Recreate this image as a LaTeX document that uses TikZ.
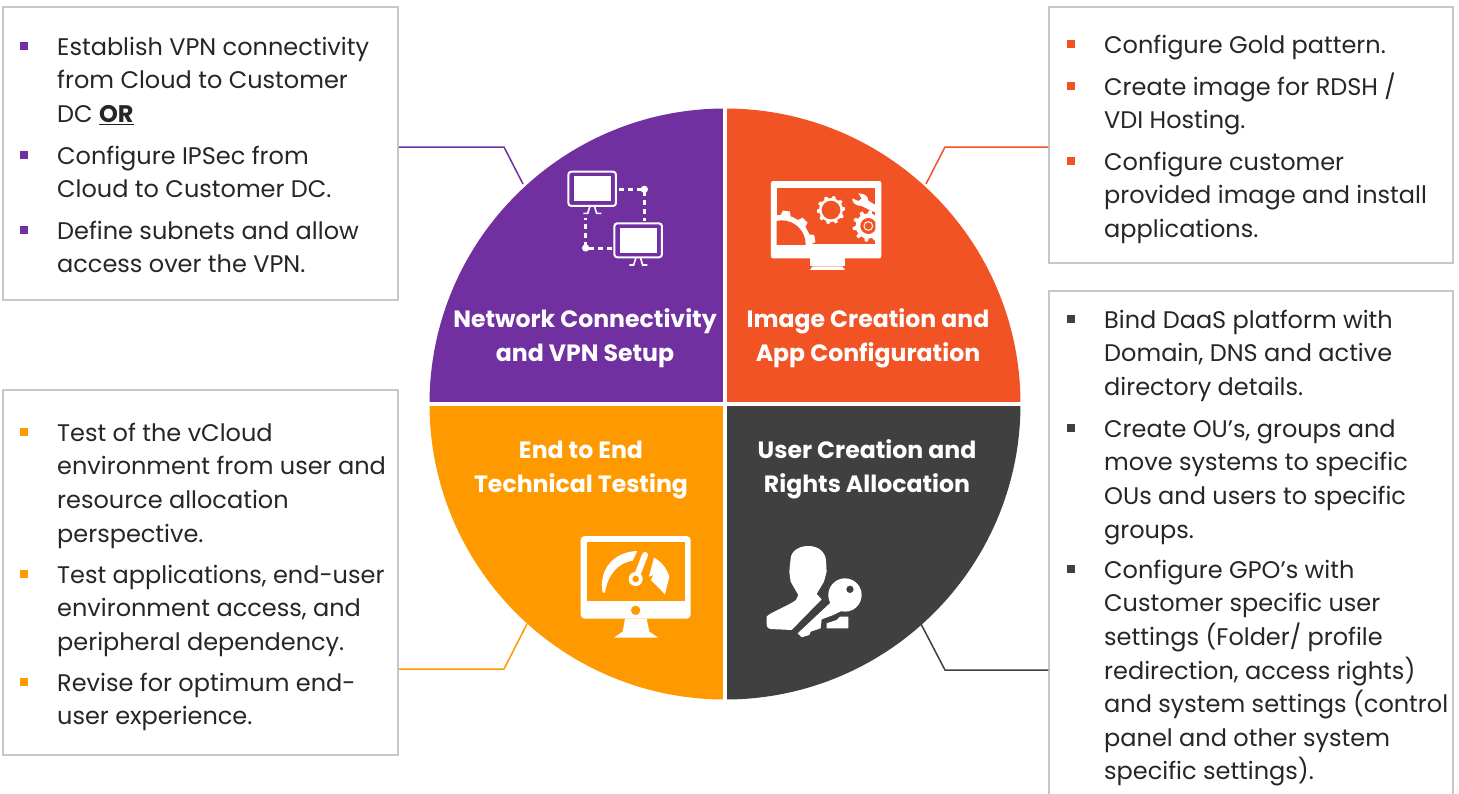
\documentclass[tikz,border=0pt]{standalone}
\usepackage{fontspec}
\setmainfont{Poppins}
\definecolor{vpnpurple}{HTML}{7030A0}
\definecolor{imgorange}{HTML}{F25324}
\definecolor{testamber}{HTML}{FF9900}
\definecolor{userdark}{HTML}{404040}
\definecolor{bodytext}{HTML}{262626}
\newcommand{\lineup}{\rule{0pt}{24pt}}
\tikzset{
	infobox/.style={draw=black!22,line width=1.5pt,fill=white,inner sep=0pt},
	itemtext/.style={anchor=north west,align=left,inner sep=0pt,text=bodytext,font=\fontsize{24}{33.6}\selectfont},
	itembullet/.style={rectangle,inner sep=0pt,minimum size=7.5pt},
	wedgetext/.style={anchor=north,align=center,inner sep=0pt,text=white,font=\fontsize{23.6}{33.6}\selectfont\bfseries},
	leader/.style={line width=1.5pt}
}
\newcommand{\cogwheel}[5]{%
	\fill[white] (#1) circle (#2);
	\foreach \a in {0,36,...,324}
		\fill[white,shift={(#1)},rotate=\a+#5] (#2-1,-0.17*#2) -- (#2+#4,-0.12*#2) -- (#2+#4,0.12*#2) -- (#2-1,0.17*#2) -- cycle;
	\fill[imgorange] (#1) circle (#3);
}
\begin{document}
\begin{tikzpicture}[x=1pt,y=-1pt]
		\clip (0,0) rectangle (1459,793);
		\fill[white] (0,0) rectangle (1459,793);

		% the four quarters
		\coordinate (hub) at (725,404);
		\fill[vpnpurple] (hub) -- (429.5,404) arc (180:270:295.5) -- cycle;
		\fill[imgorange] (hub) -- (725,108.5) arc (270:360:295.5) -- cycle;
		\fill[userdark] (hub) -- (1020.5,404) arc (0:90:295.5) -- cycle;
		\fill[testamber] (hub) -- (725,699.5) arc (90:180:295.5) -- cycle;
		\draw[white,line width=4pt] (725,100) -- (725,710);
		\draw[white,line width=4pt] (420,404) -- (1030,404);

		\node[wedgetext] (titleVPN) at (585,303.5) {\lineup Network Connectivity\\and VPN Setup};
		\node[wedgetext] (titleImg) at (868,303.5) {\lineup Image Creation and\\App Configuration};
		\node[wedgetext] (titleTest) at (581,434.5) {\lineup End to End\\Technical Testing};
		\node[wedgetext] (titleUser) at (867,434.5) {\lineup User Creation and\\Rights Allocation};

		% boxes
		\node[infobox,minimum width=395pt,minimum height=293pt] (boxVPN) at (200.5,153.5) {};
		\node[infobox,minimum width=404pt,minimum height=256pt] (boxImg) at (1251,135) {};
		\node[infobox,minimum width=404pt,minimum height=520pt] (boxUser) at (1251,551) {};
		\node[infobox,minimum width=395pt,minimum height=365pt] (boxTest) at (200.5,572.5) {};

		% leaders
		\coordinate (bendVPN) at (504,147);
		\coordinate (tipVPN) at (523,184);
		\coordinate (bendImg) at (945,147);
		\coordinate (tipImg) at (926,184);
		\coordinate (bendTest) at (504,669);
		\coordinate (tipTest) at (527,624);
		\coordinate (bendUser) at (945,670);
		\coordinate (tipUser) at (921,624);
		\draw[leader,vpnpurple] (boxVPN.east |- bendVPN) -- (bendVPN) -- (tipVPN);
		\draw[leader,imgorange] (boxImg.west |- bendImg) -- (bendImg) -- (tipImg);
		\draw[leader,testamber] (boxTest.east |- bendTest) -- (bendTest) -- (tipTest);
		\draw[leader,userdark] (boxUser.west |- bendUser) -- (bendUser) -- (tipUser);

		% box texts
		\node[itembullet,fill=vpnpurple] (bulletVPNa) at (24,46) {};
		\node[itembullet,fill=vpnpurple] (bulletVPNb) at (24,155) {};
		\node[itembullet,fill=vpnpurple] (bulletVPNc) at (24,230) {};
		\node[itemtext] (itemVPNa) at (57,31) {\lineup Establish VPN connectivity\\from Cloud to Customer\\DC \underline{\textbf{OR}}};
		\node[itemtext] (itemVPNb) at (57,140) {\lineup Configure IPSec from\\Cloud to Customer DC.};
		\node[itemtext] (itemVPNc) at (57,215) {\lineup Define subnets and allow\\access over the VPN.};

		\node[itembullet,fill=imgorange] (bulletImga) at (1071,44) {};
		\node[itembullet,fill=imgorange] (bulletImgb) at (1071,86) {};
		\node[itembullet,fill=imgorange] (bulletImgc) at (1071,161) {};
		\node[itemtext] (itemImga) at (1104,29) {\lineup Configure Gold pattern.};
		\node[itemtext] (itemImgb) at (1104,71) {\lineup Create image for RDSH /\\VDI Hosting.};
		\node[itemtext] (itemImgc) at (1104,146) {\lineup Configure customer\\provided image and install\\applications.};

		\node[itembullet,fill=userdark] (bulletUsera) at (1071,319) {};
		\node[itembullet,fill=userdark] (bulletUserb) at (1071,428) {};
		\node[itembullet,fill=userdark] (bulletUserc) at (1071,569) {};
		\node[itemtext] (itemUsera) at (1104,304) {\lineup Bind DaaS platform with\\Domain, DNS and active\\directory details.};
		\node[itemtext] (itemUserb) at (1104,413) {\lineup Create OU’s, groups and\\move systems to specific\\OUs and users to specific\\groups.};
		\node[itemtext] (itemUserc) at (1104,554) {\lineup Configure GPO’s with\\Customer specific user\\settings (Folder/ profile\\redirection, access rights)\\and system settings (control\\panel and other system\\specific settings).};

		\node[itembullet,fill=testamber] (bulletTesta) at (24,432) {};
		\node[itembullet,fill=testamber] (bulletTestb) at (24,574) {};
		\node[itembullet,fill=testamber] (bulletTestc) at (24,682) {};
		\node[itemtext] (itemTesta) at (57,417) {\lineup Test of the vCloud\\environment from user and\\resource allocation\\perspective.};
		\node[itemtext] (itemTestb) at (57,559) {\lineup Test applications, end-user\\environment access, and\\peripheral dependency.};
		\node[itemtext] (itemTestc) at (57,667) {\lineup Revise for optimum end-\\user experience.};

		% network icon
		\begin{scope}[shift={(540,150)},x=0.3333pt,y=-0.3333pt]
			\draw[white,line width=2pt,rounded corners=3pt] (85,65) rectangle (228,168);
			\fill[white] (102,78) rectangle (213,153);
			\draw[white,line width=1.6pt] (150,168) -- (143,190) -- (130,190) (163,168) -- (170,190) -- (184,190);
			\draw[white,line width=2pt,rounded corners=3pt] (223,220) rectangle (366,322);
			\fill[white] (240,234) rectangle (351,308);
			\draw[white,line width=1.6pt] (288,322) -- (281,345) -- (268,345) (301,322) -- (308,345) -- (322,345);
			\draw[white,line width=2.5pt,dash pattern=on 5pt off 4pt] (238,118) -- (313,118) -- (313,212);
			\draw[white,line width=2.5pt,dash pattern=on 5pt off 4pt] (215,295) -- (137,295) -- (137,205);
			\fill[white] (313,118) circle (11);
			\fill[white] (137,294) circle (11);
		\end{scope}

		% image icon
		\begin{scope}[shift={(540,150)},x=0.3333pt,y=-0.3333pt]
			\fill[white,rounded corners=2pt] (693,93) rectangle (1024,325);
			\fill[white] (810,325) rectangle (915,347);
			\fill[white] (818,349) -- (907,349) -- (915,360) -- (810,360) -- cycle;
			\fill[imgorange] (710,115) rectangle (1006,283);
			\begin{scope}
				\clip (710,115) rectangle (1006,283);
				\cogwheel{725,283}{88}{72}{13}{10}
				\cogwheel{873,180}{36}{28}{6}{5}
				\cogwheel{985,228}{38}{24}{9}{10}
				\draw[white,line width=1pt] (985,228) circle (13);
				\fill[white] (955,130) .. controls (975,130) and (985,140) .. (985,152) -- (1006,165) -- (1006,187) -- (985,178) -- (965,168) .. controls (945,168) and (935,155) .. (937,145) -- (955,153) -- (965,146) -- cycle;
			\end{scope}
		\end{scope}

		% testing icon
		\begin{scope}[shift={(550,520)},x=0.3333pt,y=-0.3333pt]
			\fill[white,rounded corners=4pt] (92,48) rectangle (422,296);
			\fill[white] (225,296) -- (290,296) -- (298,335) -- (325,353) -- (192,353) -- (218,335) -- cycle;
			\fill[testamber] (110,67) rectangle (405,243);
			\fill[testamber] (257,271) circle (14);
			\fill[white] (262,93) -- (248,122) .. controls (205,128) and (172,165) .. (165,218) -- (158,218) .. controls (145,150) and (190,95) .. (262,93) -- cycle;
			\draw[white,line width=6pt,line cap=round] (257,177) -- (285,105);
			\fill[white] (257,177) circle (21);
			\fill[testamber] (257,177) circle (10);
			\fill[white] (312,113) .. controls (335,125) and (350,145) .. (358,170) -- (345,223) -- (303,180) -- (310,165) -- (297,170) -- cycle;
		\end{scope}

		% user icon
		\begin{scope}[shift={(550,520)},x=0.3333pt,y=-0.3333pt]
			\fill[white] (722,115) .. controls (725,90) and (750,78) .. (775,78) .. controls (805,78) and (825,95) .. (828,120) -- (830,155) -- (822,185) -- (800,222) -- (815,238) -- (725,330) -- (662,327) .. controls (652,325) and (650,320) .. (650,310) -- (650,290) .. controls (655,280) and (720,255) .. (738,240) -- (745,225) -- (722,185) -- (718,155) -- cycle;
			\fill[white] (830,310) -- (860,300) -- (870,290) -- (895,290) -- (895,325) -- (830,325) -- cycle;
			\fill[white] (885,225) circle (50);
			\fill[white] (850,240) -- (743,340) -- (755,352) -- (778,345) -- (782,335) -- (812,325) -- (815,298) -- (850,285) -- (880,270) -- cycle;
			\fill[userdark] (900,208) circle (11);
		\end{scope}
		\end{tikzpicture}
\end{document}
